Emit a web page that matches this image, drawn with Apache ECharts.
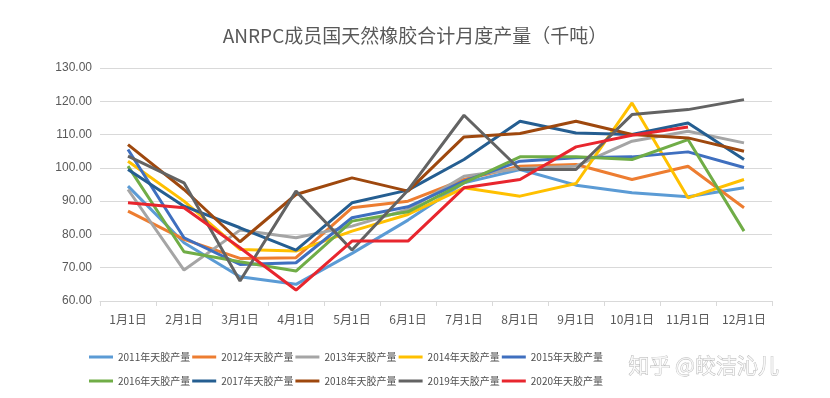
<!DOCTYPE html>
<html>
<head>
<meta charset="utf-8">
<script src="https://cdn.jsdelivr.net/npm/echarts@6/dist/echarts.min.js"></script>
<style>
html, body { margin: 0; padding: 0; background: #fff; }
#main { width: 830px; height: 398px; }
</style>
</head>
<body>
<div id="main"></div>
<script>
// 月份
const months = ['1月1日', '2月1日', '3月1日', '4月1日', '5月1日', '6月1日', '7月1日', '8月1日', '9月1日', '10月1日', '11月1日', '12月1日']
// 各年度月度产量（千吨），从图上读取的估计值
const y2011 = [94.5, 77.5, 67.3, 65, 74.3, 84.3, 95.5, 99.5, 94.8, 92.5, 91.3, 94]
const y2012 = [87, 78.5, 72.8, 73, 88, 90, 96.5, 100.5, 101, 96.5, 100.5, 88]
const y2013 = [93.5, 69.3, 81.3, 79, 82.5, 87.5, 97.5, 99.8, 100.5, 108, 111, 107.5]
const y2014 = [102, 90, 75.5, 75, 81, 86, 94, 91.5, 95.3, 119.5, 91, 96.5]
const y2015 = [105.5, 79, 71, 71.5, 85, 88.3, 96, 102, 103, 103.3, 104.8, 100.1]
const y2016 = [100.5, 74.8, 71.8, 69, 84, 86.8, 95.5, 103.3, 103.3, 102.5, 108.5, 81]
const y2017 = [99.5, 88.5, 82, 75.3, 89.5, 93.3, 102.5, 114, 110.5, 110, 113.5, 102.5]
const y2018 = [107, 93.5, 77.8, 92, 97, 93, 109.3, 110.3, 114, 110, 109, 105]
const y2019 = [103.5, 95.5, 66, 93, 75.3, 93.3, 115.8, 99.5, 99.5, 116, 117.5, 120.5]
const y2020 = [89.5, 88, 76, 63.3, 78, 78, 94, 96.5, 106.3, 109.8, 112.3, null]

const names = ['2011年天胶产量', '2012年天胶产量', '2013年天胶产量', '2014年天胶产量', '2015年天胶产量',
  '2016年天胶产量', '2017年天胶产量', '2018年天胶产量', '2019年天胶产量', '2020年天胶产量']
const values = [y2011, y2012, y2013, y2014, y2015, y2016, y2017, y2018, y2019, y2020]
const colors = ['#5B9BD5', '#ED7D31', '#A5A5A5', '#FFC000', '#3F6FBF',
  '#70AD47', '#255E91', '#9E480E', '#636363', '#E8262E']

const legendBase = {
  left: 84,
  icon: 'rect',
  itemWidth: 24,
  itemHeight: 3,
  itemGap: 2,
  textStyle: { color: '#505050', fontSize: 10, fontFamily: 'Noto Sans CJK SC' }
}

const chart = echarts.init(document.getElementById('main'))
chart.setOption({
  animation: false,
  color: colors,
  title: {
    text: 'ANRPC成员国天然橡胶合计月度产量（千吨）',
    left: 'center',
    top: 21,
    textStyle: { color: '#595959', fontSize: 19, fontWeight: 'normal', fontFamily: 'Noto Sans CJK SC' }
  },
  legend: [
    Object.assign({}, legendBase, { top: 347, data: names.slice(0, 5) }),
    Object.assign({}, legendBase, { top: 371, data: names.slice(5) })
  ],
  grid: { left: 100, right: 58, top: 68, bottom: 97 },
  xAxis: {
    type: 'category',
    data: months,
    axisLine: { lineStyle: { color: '#D9D9D9', width: 1 } },
    axisTick: { show: true, length: 5, lineStyle: { color: '#D9D9D9' } },
    axisLabel: { color: '#595959', fontSize: 12, margin: 12, interval: 0, fontFamily: 'Noto Sans CJK SC' }
  },
  yAxis: {
    type: 'value',
    min: 60,
    max: 130,
    interval: 10,
    axisLine: { show: false },
    axisTick: { show: false },
    splitLine: { lineStyle: { color: '#D9D9D9' } },
    axisLabel: {
      color: '#595959',
      fontSize: 12,
      margin: 8,
      formatter: v => v.toFixed(2)
    }
  },
  series: names.map((n, i) => ({
    name: n,
    type: 'line',
    data: values[i],
    showSymbol: false,
    lineStyle: { width: 3 },
    z: i === 9 ? 5 : 2
  })),
  // 知乎水印
  graphic: [{
    type: 'text',
    left: 628,
    top: 354,
    z: 100,
    style: {
      text: '知乎 @皎洁沁儿',
      fontSize: 21,
      fontFamily: 'Noto Sans CJK SC',
      fill: 'rgba(255,255,255,0.75)',
      stroke: 'rgba(110,110,110,0.5)',
      lineWidth: 0.8
    }
  }]
})
</script>
</body>
</html>
